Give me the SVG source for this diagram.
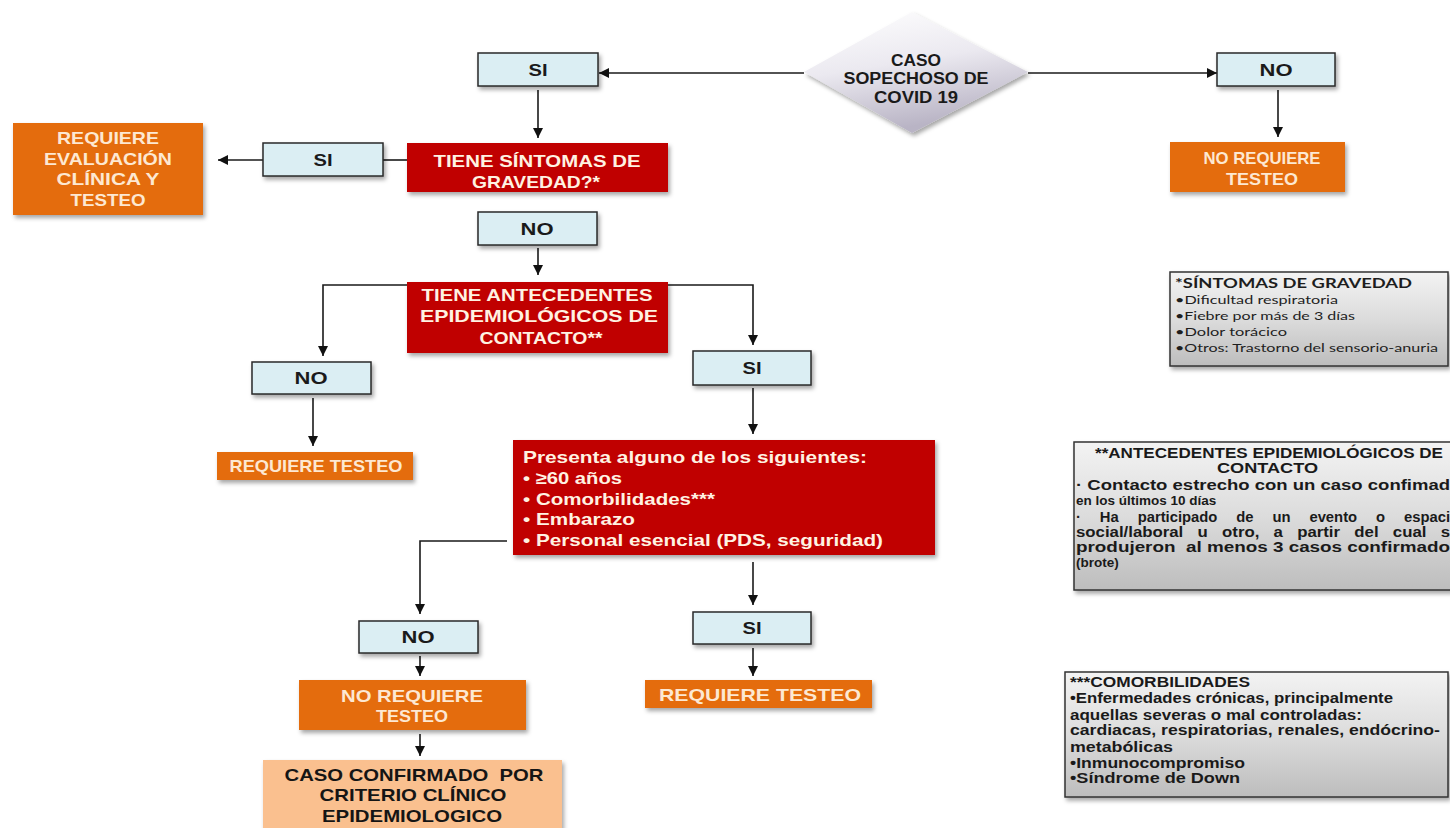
<svg xmlns="http://www.w3.org/2000/svg" width="1450" height="828" viewBox="0 0 1450 828">
<style>
.t{font-family:"Liberation Sans",Arial,sans-serif;font-weight:bold;text-anchor:middle}
.w{fill:#fff2e2}
.ow{fill:#fde8d2}
.k{fill:#1a1a1a}
.red{fill:#c00000}
.org{fill:#e46c0a}
.peach{fill:#fac08f}
.blue{fill:#dbeef3;stroke:#2a2a2a;stroke-width:1.5}
.note{fill:url(#ng);stroke:#333;stroke-width:1.5}
.n1{font-family:Lato,"Liberation Sans",sans-serif;fill:#1e1e1e}
.n2{font-family:"Liberation Sans",Arial,sans-serif;font-weight:bold;fill:#1a1a1a}
.c{fill:none;stroke:#1a1a1a;stroke-width:1.6}
</style>
<defs>
<marker id="ah" markerWidth="11" markerHeight="11" refX="10" refY="5" orient="auto" markerUnits="userSpaceOnUse">
<path d="M0,0 L10,5 L0,10 z" fill="#111"/>
</marker>
<filter id="sh" x="-10%" y="-10%" width="125%" height="140%">
<feDropShadow dx="2" dy="3" stdDeviation="2" flood-color="#000" flood-opacity="0.35"/>
</filter>
<linearGradient id="ng" x1="0" y1="0" x2="0" y2="1">
<stop offset="0" stop-color="#f3f3f3"/>
<stop offset="0.5" stop-color="#dcdcdc"/>
<stop offset="1" stop-color="#bdbdbd"/>
</linearGradient>
<linearGradient id="dg" x1="0" y1="0" x2="0.3" y2="1">
<stop offset="0" stop-color="#ffffff"/>
<stop offset="0.5" stop-color="#ebe9f0"/>
<stop offset="1" stop-color="#b9b4c5"/>
</linearGradient>
</defs>

<g id="connectors">
<line class="c" x1="804" y1="73" x2="599" y2="73" marker-end="url(#ah)"/>
<line class="c" x1="1028" y1="73" x2="1217" y2="73" marker-end="url(#ah)"/>
<line class="c" x1="538" y1="90" x2="538" y2="138" marker-end="url(#ah)"/>
<line class="c" x1="1278" y1="90" x2="1278" y2="137" marker-end="url(#ah)"/>
<line class="c" x1="407" y1="160" x2="383" y2="160"/>
<line class="c" x1="263" y1="160" x2="218" y2="160" marker-end="url(#ah)"/>
<line class="c" x1="538" y1="248" x2="538" y2="275" marker-end="url(#ah)"/>
<polyline class="c" points="407,285 323,285 323,356" marker-end="url(#ah)"/>
<polyline class="c" points="668,285 753,285 753,345" marker-end="url(#ah)"/>
<line class="c" x1="313" y1="398" x2="313" y2="446" marker-end="url(#ah)"/>
<line class="c" x1="753" y1="388" x2="753" y2="434" marker-end="url(#ah)"/>
<polyline class="c" points="507,541 420,541 420,614" marker-end="url(#ah)"/>
<line class="c" x1="753" y1="562" x2="753" y2="605" marker-end="url(#ah)"/>
<line class="c" x1="753" y1="648" x2="753" y2="676" marker-end="url(#ah)"/>
<line class="c" x1="420" y1="656" x2="420" y2="676" marker-end="url(#ah)"/>
<line class="c" x1="420" y1="734" x2="420" y2="756" marker-end="url(#ah)"/>
</g>

<g id="start">
<polygon points="912,12 1028,72 912,133 804,72" fill="url(#dg)" filter="url(#sh)"/>
<text class="t k" font-size="16" x="916" y="66" textLength="50" lengthAdjust="spacingAndGlyphs">CASO</text>
<text class="t k" font-size="16" x="916" y="84" textLength="145" lengthAdjust="spacingAndGlyphs">SOPECHOSO DE</text>
<text class="t k" font-size="16" x="916" y="103" textLength="84" lengthAdjust="spacingAndGlyphs">COVID 19</text>
</g>

<g id="si-top">
<rect class="blue" x="478" y="53" width="120" height="33" filter="url(#sh)"/>
<text class="t k" font-size="17" x="538" y="76" textLength="19" lengthAdjust="spacingAndGlyphs">SI</text>
</g>
<g id="no-top">
<rect class="blue" x="1217" y="53" width="118" height="33" filter="url(#sh)"/>
<text class="t k" font-size="17" x="1276" y="76" textLength="33" lengthAdjust="spacingAndGlyphs">NO</text>
</g>
<g id="no-requiere-1">
<rect class="org" x="1170" y="142" width="175" height="50" filter="url(#sh)"/>
<text class="t ow" font-size="17" x="1262" y="164" textLength="117" lengthAdjust="spacingAndGlyphs">NO REQUIERE</text>
<text class="t ow" font-size="17" x="1262" y="185" textLength="72" lengthAdjust="spacingAndGlyphs">TESTEO</text>
</g>

<g id="gravedad">
<rect class="red" x="407" y="143" width="261" height="49" filter="url(#sh)"/>
<text class="t w" font-size="17" x="537" y="167" textLength="207" lengthAdjust="spacingAndGlyphs">TIENE SÍNTOMAS DE</text>
<text class="t w" font-size="17" x="536" y="188" textLength="128" lengthAdjust="spacingAndGlyphs">GRAVEDAD?*</text>
</g>
<g id="si-grav">
<rect class="blue" x="263" y="143" width="120" height="33" filter="url(#sh)"/>
<text class="t k" font-size="17" x="323" y="166" textLength="19" lengthAdjust="spacingAndGlyphs">SI</text>
</g>
<g id="eval">
<rect class="org" x="13" y="123" width="190" height="92" filter="url(#sh)"/>
<text class="t ow" font-size="17" x="108" y="144" textLength="102" lengthAdjust="spacingAndGlyphs">REQUIERE</text>
<text class="t ow" font-size="17" x="108" y="165" textLength="128" lengthAdjust="spacingAndGlyphs">EVALUACIÓN</text>
<text class="t ow" font-size="17" x="108" y="185" textLength="103" lengthAdjust="spacingAndGlyphs">CLÍNICA Y</text>
<text class="t ow" font-size="17" x="108" y="206" textLength="75" lengthAdjust="spacingAndGlyphs">TESTEO</text>
</g>

<g id="no-grav">
<rect class="blue" x="478" y="212" width="119" height="33" filter="url(#sh)"/>
<text class="t k" font-size="17" x="537" y="235" textLength="33" lengthAdjust="spacingAndGlyphs">NO</text>
</g>

<g id="antecedentes">
<rect class="red" x="407" y="282" width="261" height="71" filter="url(#sh)"/>
<text class="t w" font-size="17" x="537" y="301" textLength="231" lengthAdjust="spacingAndGlyphs">TIENE ANTECEDENTES</text>
<text class="t w" font-size="17" x="539" y="322" textLength="238" lengthAdjust="spacingAndGlyphs">EPIDEMIOLÓGICOS DE</text>
<text class="t w" font-size="17" x="541" y="344" textLength="123" lengthAdjust="spacingAndGlyphs">CONTACTO**</text>
</g>

<g id="no-ant">
<rect class="blue" x="252" y="362" width="119" height="32" filter="url(#sh)"/>
<text class="t k" font-size="17" x="311" y="384" textLength="33" lengthAdjust="spacingAndGlyphs">NO</text>
</g>
<g id="requiere-1">
<rect class="org" x="217" y="452" width="196" height="28" filter="url(#sh)"/>
<text class="t ow" font-size="17" x="316" y="472" textLength="173" lengthAdjust="spacingAndGlyphs">REQUIERE TESTEO</text>
</g>

<g id="si-ant">
<rect class="blue" x="693" y="351" width="118" height="34" filter="url(#sh)"/>
<text class="t k" font-size="17" x="752" y="374" textLength="19" lengthAdjust="spacingAndGlyphs">SI</text>
</g>

<g id="presenta">
<rect class="red" x="513" y="440" width="422" height="115" filter="url(#sh)"/>
<g class="t w" font-size="17" style="text-anchor:start">
<text x="523" y="463" textLength="344" lengthAdjust="spacingAndGlyphs">Presenta alguno de los siguientes:</text>
<text x="523" y="484" textLength="99" lengthAdjust="spacingAndGlyphs">• ≥60 años</text>
<text x="523" y="505" textLength="192" lengthAdjust="spacingAndGlyphs">• Comorbilidades***</text>
<text x="523" y="525" textLength="112" lengthAdjust="spacingAndGlyphs">• Embarazo</text>
<text x="523" y="546" textLength="360" lengthAdjust="spacingAndGlyphs">• Personal esencial (PDS, seguridad)</text>
</g>
</g>

<g id="no-pres">
<rect class="blue" x="359" y="621" width="119" height="32" filter="url(#sh)"/>
<text class="t k" font-size="17" x="418" y="643" textLength="33" lengthAdjust="spacingAndGlyphs">NO</text>
</g>
<g id="no-requiere-2">
<rect class="org" x="299" y="680" width="227" height="50" filter="url(#sh)"/>
<text class="t ow" font-size="17" x="412" y="702" textLength="142" lengthAdjust="spacingAndGlyphs">NO REQUIERE</text>
<text class="t ow" font-size="17" x="412" y="722" textLength="72" lengthAdjust="spacingAndGlyphs">TESTEO</text>
</g>
<g id="caso-confirmado">
<rect class="peach" x="263" y="760" width="299" height="72" filter="url(#sh)"/>
<text class="t" fill="#151515" font-size="17" x="414" y="781" textLength="259" lengthAdjust="spacingAndGlyphs" style="white-space:pre">CASO CONFIRMADO  POR</text>
<text class="t" fill="#151515" font-size="17" x="413" y="801" textLength="187" lengthAdjust="spacingAndGlyphs">CRITERIO CLÍNICO</text>
<text class="t" fill="#151515" font-size="17" x="412" y="822" textLength="180" lengthAdjust="spacingAndGlyphs">EPIDEMIOLOGICO</text>
</g>

<g id="si-pres">
<rect class="blue" x="693" y="612" width="118" height="32" filter="url(#sh)"/>
<text class="t k" font-size="17" x="752" y="634" textLength="19" lengthAdjust="spacingAndGlyphs">SI</text>
</g>
<g id="requiere-2">
<rect class="org" x="645" y="680" width="227" height="28" filter="url(#sh)"/>
<text class="t ow" font-size="17" x="760" y="701" textLength="202" lengthAdjust="spacingAndGlyphs">REQUIERE TESTEO</text>
</g>

<g id="nota-gravedad">
<rect class="note" x="1170" y="272" width="278" height="94" filter="url(#sh)"/>
<text class="n1" font-weight="bold" font-size="14" x="1175" y="288" textLength="237" lengthAdjust="spacingAndGlyphs">*SÍNTOMAS DE GRAVEDAD</text>
<text class="n1" font-size="12" x="1175" y="304" textLength="163" lengthAdjust="spacingAndGlyphs">•Dificultad respiratoria</text>
<text class="n1" font-size="12" x="1175" y="320" textLength="180" lengthAdjust="spacingAndGlyphs">•Fiebre por más de 3 días</text>
<text class="n1" font-size="12" x="1175" y="336" textLength="112" lengthAdjust="spacingAndGlyphs">•Dolor torácico</text>
<text class="n1" font-size="12" x="1175" y="352" textLength="263" lengthAdjust="spacingAndGlyphs">•Otros: Trastorno del sensorio-anuria</text>
</g>

<g id="nota-antecedentes">
<rect class="note" x="1074" y="442" width="390" height="148" filter="url(#sh)"/>
<text class="n2" font-size="14" x="1095" y="458" textLength="348" lengthAdjust="spacingAndGlyphs">**ANTECEDENTES EPIDEMIOLÓGICOS DE</text>
<text class="n2" font-size="14" x="1217" y="473" textLength="101" lengthAdjust="spacingAndGlyphs">CONTACTO</text>
<text class="n2" font-size="14" x="1076" y="490" textLength="374" lengthAdjust="spacingAndGlyphs">· Contacto estrecho con un caso confimad</text>
<text class="n2" font-size="13.5" x="1076" y="505">en los últimos 10 días</text>
<text class="n2" font-size="14" x="1076" y="522" textLength="374" lengthAdjust="spacingAndGlyphs" word-spacing="14">· Ha participado de un evento o espaci</text>
<text class="n2" font-size="14" x="1076" y="537" textLength="374" lengthAdjust="spacingAndGlyphs" word-spacing="8">social/laboral u otro, a partir del cual s</text>
<text class="n2" font-size="14" x="1076" y="552" textLength="374" lengthAdjust="spacingAndGlyphs" style="white-space:pre">produjeron  al menos 3 casos confirmado</text>
<text class="n2" font-size="13.5" x="1076" y="567">(brote)</text>
</g>

<g id="nota-comorbilidades">
<rect class="note" x="1065" y="672" width="383" height="125" filter="url(#sh)"/>
<text class="n2" font-weight="normal" font-size="14" x="1070" y="687" textLength="180" lengthAdjust="spacingAndGlyphs">***COMORBILIDADES</text>
<text class="n2" font-size="14" x="1070" y="703" textLength="323" lengthAdjust="spacingAndGlyphs">•Enfermedades crónicas, principalmente</text>
<text class="n2" font-size="14" x="1070" y="720" textLength="292" lengthAdjust="spacingAndGlyphs">aquellas severas o mal controladas:</text>
<text class="n2" font-size="14" x="1070" y="735" textLength="370" lengthAdjust="spacingAndGlyphs">cardiacas, respiratorias, renales, endócrino-</text>
<text class="n2" font-size="14" x="1070" y="752" textLength="103" lengthAdjust="spacingAndGlyphs">metabólicas</text>
<text class="n2" font-size="14" x="1070" y="768" textLength="175" lengthAdjust="spacingAndGlyphs">•Inmunocompromiso</text>
<text class="n2" font-size="14" x="1070" y="783" textLength="170" lengthAdjust="spacingAndGlyphs">•Síndrome de Down</text>
</g>
</svg>
